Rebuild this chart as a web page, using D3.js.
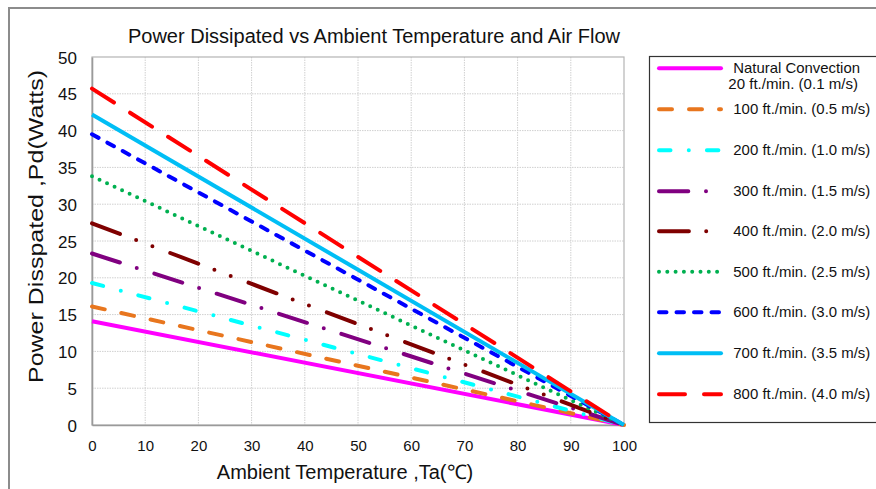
<!DOCTYPE html>
<html>
<head>
<meta charset="utf-8">
<script src="https://cdn.jsdelivr.net/npm/d3@7/dist/d3.min.js"></script>
<style>
  html, body { margin: 0; padding: 0; background: #fff; }
  svg { display: block; font-family: "Liberation Sans", Arial, sans-serif; }
</style>
</head>
<body>
<svg id="chart" width="876" height="489"></svg>
<script>
// ---- data ----
const temperatures = [0, 100];
const seriesNames = [
  "Natural Convection|20 ft./min. (0.1 m/s)",
  "100 ft./min. (0.5 m/s)",
  "200 ft./min. (1.0 m/s)",
  "300 ft./min. (1.5 m/s)",
  "400 ft./min. (2.0 m/s)",
  "500 ft./min. (2.5 m/s)",
  "600 ft./min. (3.0 m/s)",
  "700 ft./min. (3.5 m/s)",
  "800 ft./min. (4.0 m/s)"
];
const nat20 = [14.1, 0];
const ft100 = [16.1, 0];
const ft200 = [19.3, 0];
const ft300 = [23.3, 0];
const ft400 = [27.4, 0];
const ft500 = [33.8, 0];
const ft600 = [39.5, 0];
const ft700 = [42.2, 0];
const ft800 = [45.7, 0];
const seriesValues = [nat20, ft100, ft200, ft300, ft400, ft500, ft600, ft700, ft800];
const xTicks = [0, 10, 20, 30, 40, 50, 60, 70, 80, 90, 100];
const yTicks = [0, 5, 10, 15, 20, 25, 30, 35, 40, 45, 50];

const titleText = "Power Dissipated vs Ambient Temperature and Air Flow";
const xTitle = "Ambient Temperature ,Ta(℃)";
const yTitle = "Power Disspated ,Pd(Watts)";

// ---- styles ----
const styles = [
  { color: "#FF00FF", dash: null },
  { color: "#E8761E", dash: "13,17" },
  { color: "#00FFFF", dash: "11.5,18.3,0,18.1" },
  { color: "#800080", dash: "29.3,17.7,0,18.5" },
  { color: "#7F0000", dash: "29.9,17.3,0,17.4,0,19.1" },
  { color: "#00B050", dash: "0,8.3" },
  { color: "#0000FF", dash: "7.5,10" },
  { color: "#00BEF5", dash: null },
  { color: "#FF0000", dash: "26,19" }
];

const svg = d3.select("#chart");
const plot = { left: 92, right: 624, top: 57, bottom: 425 };

// outer chart frame
svg.append("rect").attr("x", 9).attr("y", 8).attr("width", 900).attr("height", 500)
  .attr("fill", "none").attr("stroke", "#8c8c8c").attr("stroke-width", 2);

const x = d3.scaleLinear().domain([0, 100]).range([plot.left, plot.right]);
const y = d3.scaleLinear().domain([0, 50]).range([plot.bottom, plot.top]);

// gridlines
const grid = svg.append("g");
grid.selectAll("line.vx").data(xTicks.slice(1, -1)).join("line")
  .attr("x1", d => x(d)).attr("x2", d => x(d))
  .attr("y1", plot.top).attr("y2", plot.bottom)
  .attr("stroke", "#d0d0d0").attr("stroke-width", 1).attr("stroke-dasharray", "1.5,1");
grid.selectAll("line.hy").data(yTicks.slice(1, -1)).join("line")
  .attr("y1", d => y(d)).attr("y2", d => y(d))
  .attr("x1", plot.left).attr("x2", plot.right)
  .attr("stroke", "#d0d0d0").attr("stroke-width", 1).attr("stroke-dasharray", "1.5,1");

// plot border
svg.append("rect").attr("x", plot.left).attr("y", plot.top)
  .attr("width", plot.right - plot.left).attr("height", plot.bottom - plot.top)
  .attr("fill", "none").attr("stroke", "#b4b4b4").attr("stroke-width", 1.2);

// axes
const xAxis = d3.axisBottom(x).tickValues(xTicks).tickSize(0).tickPadding(0);
const gx = svg.append("g").attr("transform", `translate(0,${plot.bottom})`).call(xAxis);
gx.select(".domain").attr("stroke", "#9a9a9a").attr("stroke-width", 1.6);
gx.selectAll("text").attr("font-size", 15).attr("fill", "#111")
  .attr("dy", null).attr("y", 25.5);

const yAxis = d3.axisLeft(y).tickValues(yTicks).tickSize(0).tickPadding(0);
const gy = svg.append("g").attr("transform", `translate(${plot.left},0)`).call(yAxis);
gy.select(".domain").attr("stroke", "#9a9a9a").attr("stroke-width", 1.6);
gy.selectAll("text").attr("font-size", 17).attr("fill", "#111")
  .attr("x", -15).attr("dy", "0.36em");
svg.selectAll(".tick text").attr("font-family", "Liberation Sans, Arial, sans-serif");

// series lines
const line = d3.line().x((d, i) => x(temperatures[i])).y(d => y(d));
const lines = svg.append("g");
seriesValues.forEach((vals, i) => {
  lines.append("path").datum(vals)
    .attr("d", line)
    .attr("fill", "none")
    .attr("stroke", styles[i].color)
    .attr("stroke-width", 4)
    .attr("stroke-linecap", styles[i].dash ? "round" : "butt")
    .attr("stroke-dasharray", styles[i].dash);
});

// title
svg.append("text").attr("x", 374).attr("y", 43).attr("text-anchor", "middle")
  .attr("font-size", 20).attr("fill", "#111").text(titleText);

// axis titles
svg.append("text").attr("x", 345).attr("y", 479)
  .attr("text-anchor", "middle").attr("font-size", 20).attr("fill", "#111").text(xTitle);
svg.append("text").attr("transform", `translate(43,226.5) rotate(-90)`)
  .attr("text-anchor", "middle").attr("font-size", 20).attr("fill", "#111")
  .attr("textLength", 313).attr("lengthAdjust", "spacingAndGlyphs").text(yTitle);

// legend
const lg = svg.append("g");
lg.append("rect").attr("x", 649.5).attr("y", 56.5).attr("width", 300).attr("height", 366)
  .attr("fill", "#fff").attr("stroke", "#333").attr("stroke-width", 1.2);
const rowY = [68.3, 109.3, 150.3, 191.3, 231.3, 271.8, 312.3, 353.3, 394.3];
seriesNames.forEach((name, i) => {
  const ly = rowY[i];
  lg.append("line").attr("x1", 659).attr("x2", 721).attr("y1", ly).attr("y2", ly)
    .attr("stroke", styles[i].color).attr("stroke-width", 4)
    .attr("stroke-linecap", "round")
    .attr("stroke-dasharray", styles[i].dash);
  const parts = name.split("|");
  if (parts.length > 1) {
    lg.append("text").attr("x", 733.3).attr("y", ly + 4.5)
      .attr("font-size", 15).attr("fill", "#111")
      .attr("textLength", 126.7).attr("lengthAdjust", "spacingAndGlyphs").text(parts[0]);
    lg.append("text").attr("x", 728.3).attr("y", ly + 21)
      .attr("font-size", 15).attr("fill", "#111")
      .attr("textLength", 129.7).attr("lengthAdjust", "spacingAndGlyphs").text(parts[1]);
  } else {
    lg.append("text").attr("x", 733.3).attr("y", ly + 5).attr("font-size", 15)
      .attr("fill", "#111")
      .attr("textLength", 137).attr("lengthAdjust", "spacingAndGlyphs").text(parts[0]);
  }
});
</script>
</body>
</html>
